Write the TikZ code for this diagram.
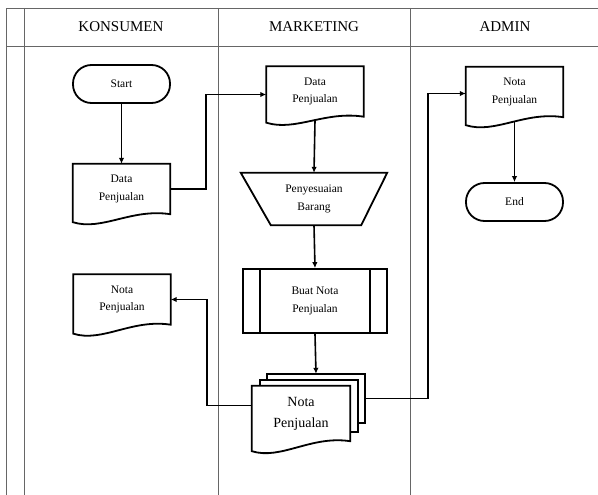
\documentclass[tikz,border=0pt]{standalone}
\usepackage{fontspec}
\setmainfont{Liberation Serif}
\usetikzlibrary{arrows.meta,calc}
\newcommand\docoutline[3]{%
  \draw[box] (#1.south east) -- (#1.north east) -- (#1.north west) -- ($(#1.south west)+(0,#3)$)
    .. controls ($(#1.south west)+(0.3*#2,#3+9)$) and ($(#1.south east)+(-0.4*#2,-6)$) .. (#1.south east) -- cycle;}
\begin{document}
\begin{tikzpicture}[x=1pt,y=-1pt,
  lane/.style={draw=black!60, line width=0.9pt},
  box/.style={draw=black, line width=1.8pt, line join=miter},
  lbl/.style={font=\fontsize{11.5}{17.5}\selectfont, align=center, inner sep=0pt},
  docnode/.style={lbl, minimum width=97pt, minimum height=50pt},
  term/.style={box, lbl, rounded corners=18.5pt, minimum width=97pt, minimum height=38pt},
  conn/.style={draw=black, line width=1.6pt},
  arr/.style={conn, -{Latex[length=6pt,width=5.5pt]}},
  hdr/.style={font=\fontsize{15}{18}\selectfont}
]
\useasboundingbox (0,0) rectangle (598,495);
% table
\draw[lane] (598,8) -- (6,8) -- (6,495);
\draw[lane] (6,46) -- (598,46);
\draw[lane] (24,8) -- (24,495);
\draw[lane] (218,8) -- (218,495);
\draw[lane] (410,8) -- (410,495);
\node[hdr] (h1) at (121,27) {KONSUMEN};
\node[hdr] (h2) at (314,27) {MARKETING};
\node[hdr] (h3) at (505,27) {ADMIN};

% konsumen
\node[term] (start) at (121.5,84) {Start};
\node[docnode] (kdata) at (121.5,189) {Data\\Penjualan};
\docoutline{kdata}{97}{8}
\node[docnode] (knota) at (122,299.5) {Nota\\Penjualan};
\docoutline{knota}{97}{9}

% marketing
\node[docnode] (mdata) at (315,91.5) {Data\\Penjualan};
\docoutline{mdata}{97}{6}
\node[lbl, minimum width=146pt, minimum height=52pt] (trap) at (314,199) {Penyesuaian\\Barang};
\draw[box] (trap.north west) -- (trap.north east) -- ($(trap.south east)+(-26,0)$) -- ($(trap.south west)+(30,0)$) -- cycle;
\node[box, lbl, minimum width=144pt, minimum height=64pt] (buat) at (315,301) {Buat Nota\\Penjualan};
\draw[box] ($(buat.north west)+(18,0)$) -- ($(buat.south west)+(18,0)$);
\draw[box] ($(buat.north east)+(-18,0)$) -- ($(buat.south east)+(-18,0)$);
% multi document
\node[minimum width=98pt, minimum height=49pt, inner sep=0pt] (back) at (316,398.5) {};
\node[minimum width=98pt, minimum height=52pt, inner sep=0pt] (mid) at (309,406) {};
\node[font=\fontsize{14}{21}\selectfont, align=center, inner sep=0pt, minimum width=98pt, minimum height=55pt] (front) at (301,413.5) {Nota\\Penjualan};
\draw[box] (mid.north east |- back.south) -- (back.south east) -- (back.north east) -- (back.north west) -- (back.north west |- mid.north);
\draw[box] (front.north east |- mid.south) -- (mid.south east) -- (mid.north east) -- (mid.north west) -- (mid.north west |- front.north);
\docoutline{front}{98}{10}

% admin
\node[docnode] (anota) at (514.5,92) {Nota\\Penjualan};
\docoutline{anota}{97}{8}
\node[term] (end) at (514.5,202) {End};

% connectors
\draw[arr] (start) -- (kdata);
\draw[arr] (kdata.east) -- ++(36,0) |- ([yshift=-3pt]mdata.west);
\draw[arr] ($(mdata.south)+(0,4)$) -- (trap.north);
\draw[arr] (trap.south) -- (buat.north);
\draw[arr] (buat.south) -- (back.north);
\draw[arr] ([yshift=8pt]front.west) -- ++(-45,0) |- (knota.east);
\draw[arr] (back.east) -- ++(63,0) |- ([yshift=-1.5pt]anota.west);
\draw[arr] ($(anota.south)+(0,4)$) -- (end.north);
\end{tikzpicture}
\end{document}
